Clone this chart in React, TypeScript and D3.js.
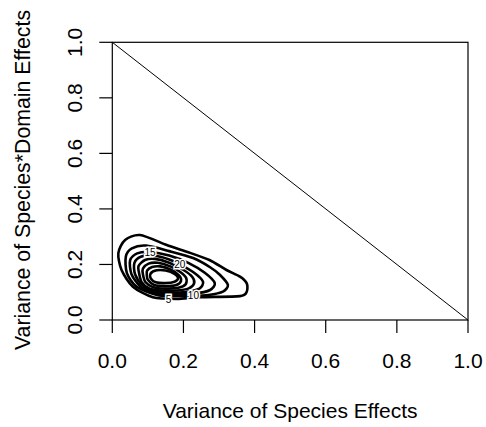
import React, { useEffect } from 'react';
import * as d3 from 'd3';

// tick values on both axes
const xTicks = [0, 0.2, 0.4, 0.6, 0.8, 1.0];
const yTicks = [0, 0.2, 0.4, 0.6, 0.8, 1.0];

// contour rings, outer (5) to inner (40)
const level5 = [[0.017, 0.241], [0.036, 0.288], [0.078, 0.306], [0.153, 0.270], [0.209, 0.246], [0.273, 0.216], [0.321, 0.180], [0.359, 0.156], [0.378, 0.132], [0.378, 0.102], [0.359, 0.086], [0.246, 0.082], [0.181, 0.076], [0.114, 0.082], [0.058, 0.120], [0.026, 0.180]];
const level10 = [[0.038, 0.228], [0.055, 0.258], [0.095, 0.268], [0.160, 0.248], [0.227, 0.223], [0.275, 0.190], [0.303, 0.162], [0.325, 0.126], [0.311, 0.102], [0.270, 0.090], [0.227, 0.087], [0.170, 0.087], [0.126, 0.090], [0.068, 0.120], [0.041, 0.169]];
const level15 = [[0.050, 0.215], [0.070, 0.240], [0.106, 0.245], [0.160, 0.232], [0.215, 0.205], [0.260, 0.170], [0.288, 0.133], [0.275, 0.108], [0.230, 0.095], [0.170, 0.093], [0.125, 0.097], [0.080, 0.120], [0.054, 0.165]];
const level20 = [[0.062, 0.205], [0.080, 0.228], [0.115, 0.232], [0.160, 0.218], [0.190, 0.200], [0.230, 0.170], [0.255, 0.138], [0.245, 0.113], [0.205, 0.101], [0.160, 0.099], [0.120, 0.103], [0.085, 0.125], [0.064, 0.165]];
const level25 = [[0.074, 0.195], [0.092, 0.216], [0.120, 0.220], [0.160, 0.206], [0.200, 0.180], [0.225, 0.155], [0.230, 0.132], [0.215, 0.114], [0.180, 0.106], [0.140, 0.106], [0.105, 0.113], [0.083, 0.135], [0.075, 0.170]];
const level30 = [[0.086, 0.185], [0.102, 0.203], [0.128, 0.206], [0.163, 0.193], [0.192, 0.172], [0.208, 0.150], [0.206, 0.128], [0.186, 0.116], [0.150, 0.113], [0.115, 0.118], [0.093, 0.137], [0.086, 0.165]];
const level35 = [[0.098, 0.178], [0.112, 0.191], [0.135, 0.193], [0.165, 0.181], [0.188, 0.160], [0.193, 0.140], [0.180, 0.126], [0.150, 0.122], [0.118, 0.126], [0.100, 0.145], [0.097, 0.163]];
const level40 = [[0.108, 0.168], [0.125, 0.179], [0.150, 0.178], [0.175, 0.166], [0.185, 0.150], [0.175, 0.138], [0.150, 0.133], [0.122, 0.136], [0.108, 0.150]];

const rings = [level5, level10, level15, level20, level25, level30, level35, level40];

// contour labels and where they sit on their ring
const labels = [
  { text: '5', x: 0.158, y: 0.075 },
  { text: '10', x: 0.228, y: 0.087 },
  { text: '15', x: 0.106, y: 0.244 },
  { text: '20', x: 0.190, y: 0.200 },
];

const width = 486;
const height = 427;
const font = '"Liberation Sans", Arial, sans-serif';

const App = () => {
  useEffect(() => {
    document.body.style.margin = '0';
  }, []);

  const x = d3.scaleLinear().domain([0, 1]).range([112.3, 468]);
  const y = d3.scaleLinear().domain([0, 1]).range([320, 42.3]);

  const ring = d3.line<number[]>()
    .x(d => x(d[0]))
    .y(d => y(d[1]))
    .curve(d3.curveCardinalClosed.tension(0.2));

  return (
    <svg width={width} height={height} style={{ display: 'block', background: '#fff' }} fontFamily={font}>
      <rect x={x(0)} y={y(1)} width={x(1) - x(0)} height={y(0) - y(1)} fill="none" stroke="#000" strokeWidth={1.2} />
      <line x1={x(0)} y1={y(1)} x2={x(1)} y2={y(0)} stroke="#000" strokeWidth={1} />

      {rings.map((r, i) => (
        <path key={i} d={ring(r) as string} fill="none" stroke="#000" strokeWidth={2.6} strokeLinejoin="round" />
      ))}
      {labels.map(l => (
        <text key={l.text} x={x(l.x)} y={y(l.y)} dy="0.35em" textAnchor="middle" fontSize={10}
          fill="#000" stroke="#fff" strokeWidth={3} paintOrder="stroke">{l.text}</text>
      ))}

      {xTicks.map(t => (
        <g key={`x${t}`}>
          <line x1={x(t)} x2={x(t)} y1={y(0)} y2={y(0) + 13} stroke="#000" strokeWidth={1.2} />
          <text x={x(t)} y={368} textAnchor="middle" fontSize={21}>{t.toFixed(1)}</text>
        </g>
      ))}
      {yTicks.map(t => (
        <g key={`y${t}`}>
          <line x1={x(0) - 13} x2={x(0)} y1={y(t)} y2={y(t)} stroke="#000" strokeWidth={1.2} />
          <text transform={`translate(82,${y(t)}) rotate(-90)`} textAnchor="middle" fontSize={21}>{t.toFixed(1)}</text>
        </g>
      ))}

      <text x={(x(0) + x(1)) / 2} y={418} textAnchor="middle" fontSize={21}>Variance of Species Effects</text>
      <text transform={`translate(30,180) rotate(-90)`} textAnchor="middle" fontSize={21.3}>Variance of Species*Domain Effects</text>
    </svg>
  );
};

export default App;
